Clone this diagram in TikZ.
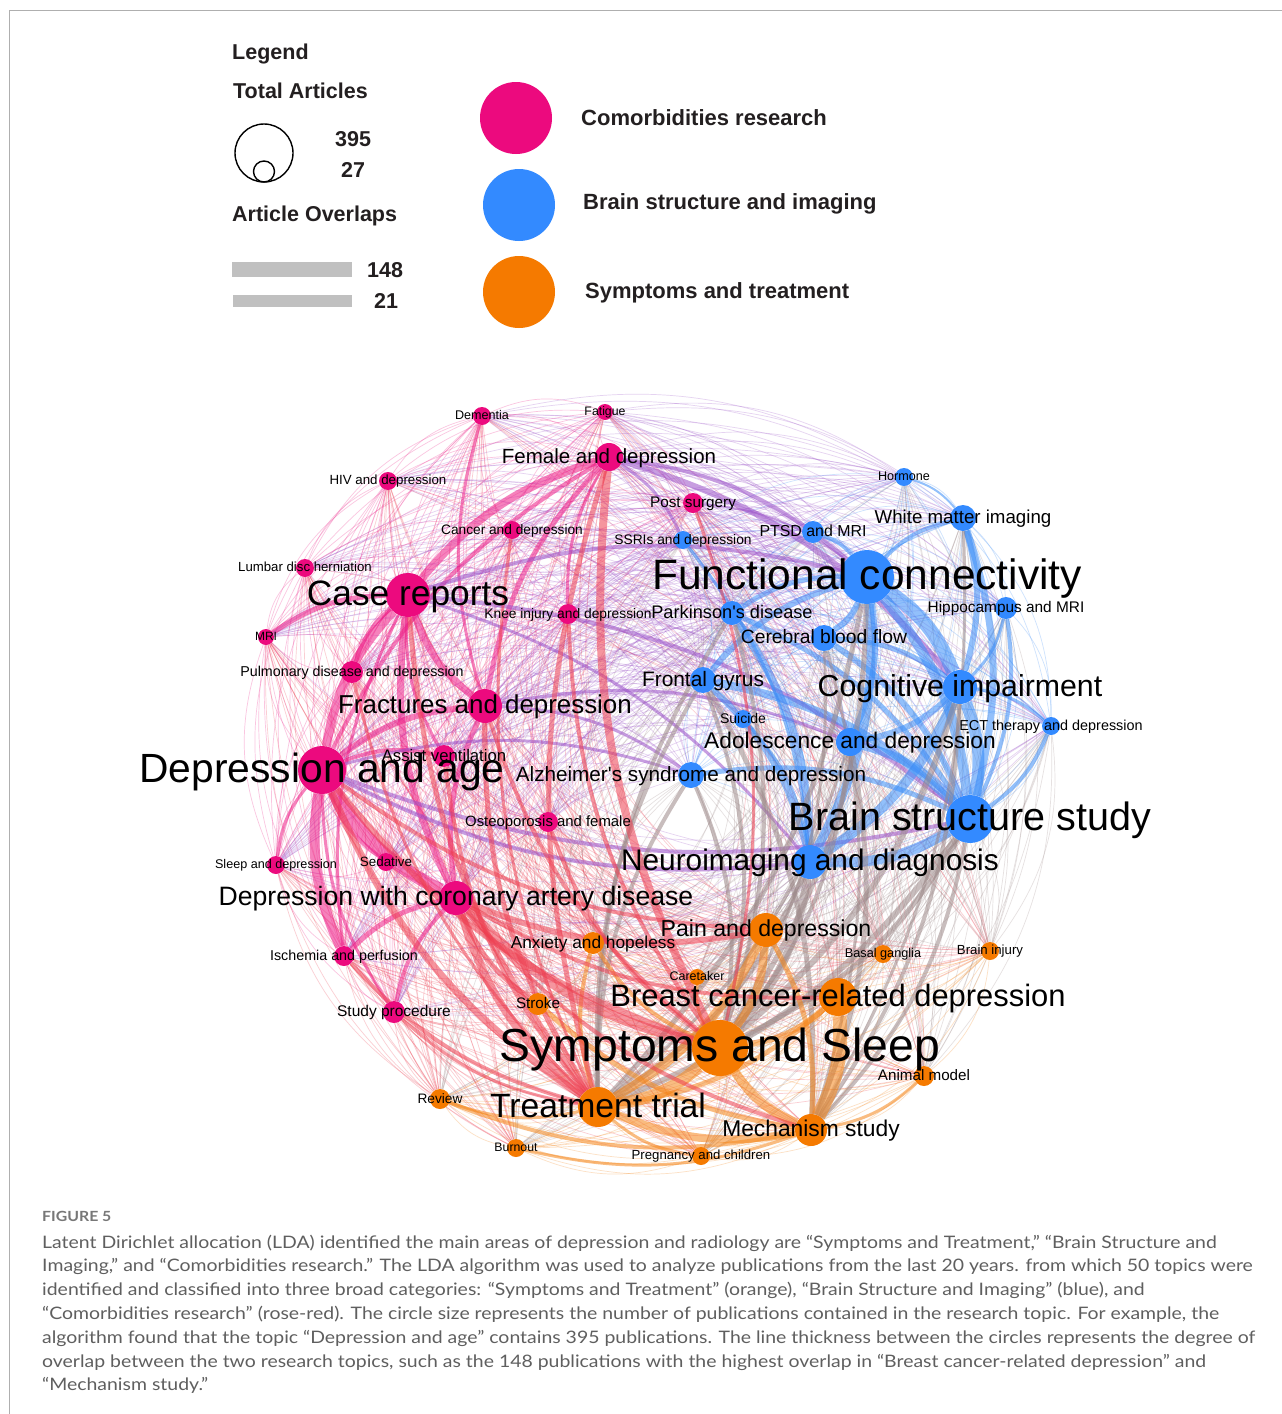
\documentclass[tikz,border=0pt]{standalone}
\usepackage{fontspec}
\setmainfont{Liberation Sans}
\newfontfamily\captionfont[FakeStretch=1.13]{Lato}

\pgfdeclarelayer{paper}
\pgfdeclarelayer{links}
\pgfdeclarelayer{labels}
\pgfsetlayers{paper,links,main,labels}

% topic colours
\definecolor{nodep}{HTML}{EC0A7E}
\definecolor{nodeb}{HTML}{338AFF}
\definecolor{nodeo}{HTML}{F57A00}
% link colours (mixture of the two end colours)
\definecolor{epp}{HTML}{EE1C86}
\definecolor{ebb}{HTML}{3A8DF8}
\definecolor{eoo}{HTML}{F5861A}
\definecolor{epb}{HTML}{9A50C8}
\colorlet{ebp}{epb}
\definecolor{epo}{HTML}{EE3E50}
\colorlet{eop}{epo}
\definecolor{ebo}{HTML}{9C8888}
\colorlet{eob}{ebo}
\definecolor{ink}{HTML}{231F20}
\definecolor{bargray}{HTML}{C0C0C0}
\definecolor{framegray}{HTML}{AFAFAF}
\definecolor{captiongray}{HTML}{5F5F5F}

% curved link between topics #1 and #2, bulging away from the network centre
% #3 line width, #4 opacity, #5 bend angle
\newcommand\topiclink[5]{%
  \pgfmathsetmacro\ax{\csname tx#1\endcsname/100}%
  \pgfmathsetmacro\ay{\csname ty#1\endcsname/100}%
  \pgfmathsetmacro\bx{\csname tx#2\endcsname/100}%
  \pgfmathsetmacro\by{\csname ty#2\endcsname/100}%
  \pgfmathsetmacro\bendang{((\by-\ay)*((\ax+\bx)/2-6.9)-(\bx-\ax)*((\ay+\by)/2-7.9))>0 ? #5 : -#5}%
  \edef\linkcolor{e\csname tc#1\endcsname\csname tc#2\endcsname}%
  \draw[line width=#3pt, draw=\linkcolor, draw opacity=#4] (n#1) to[bend left=\bendang] (n#2);%
}

\tikzset{
  topic/.style={circle, inner sep=0pt, draw=none},
  toplabel/.style={anchor=base, inner sep=0pt, text=black},
  legendhead/.style={anchor=base west, inner sep=0pt, text=ink, font=\bfseries\fontsize{21.5}{21.5}\selectfont},
  legendkey/.style={circle, inner sep=0pt, minimum size=72pt, draw=none},
  captionline/.style={anchor=base west, inner sep=0pt, text=captiongray, font=\captionfont\fontsize{17.2}{17.2}\selectfont},
}

\begin{document}
\begin{tikzpicture}[x=1pt,y=-1pt]
\useasboundingbox (0,0) rectangle (1282,1414);
\begin{pgfonlayer}{paper}
  \fill[white] (0,0) rectangle (1282,1414);
\end{pgfonlayer}
\draw[framegray, line width=1.5pt] (9.5,1414) -- (9.5,10.5) -- (1282,10.5);

% ---------------- legend ----------------
\node[legendhead] (lgtitle) at (232,59) {Legend};
\node[legendhead] (lgtotal) at (233,98) {Total Articles};
\node[circle, draw=black, line width=1.4pt, minimum size=58pt, inner sep=0pt] (lgbig) at (264,153) {};
\node[circle, draw=black, line width=1.4pt, minimum size=21pt, inner sep=0pt] (lgsmall) at (264,171.5) {};
\node[legendhead] (lg395) at (335,146) {395};
\node[legendhead] (lg27) at (341,177) {27};
\node[legendhead] (lgover) at (232,221) {Article Overlaps};
\fill[bargray] (232,262) rectangle (352,277);
\fill[bargray] (233,295) rectangle (352,307);
\node[legendhead] (lg148) at (367,277) {148};
\node[legendhead] (lg21) at (374,308) {21};

\node[legendkey, fill=nodep] (keyp) at (516,118) {};
\node[legendkey, fill=nodeb] (keyb) at (519,205) {};
\node[legendkey, fill=nodeo] (keyo) at (519,292) {};
\node[legendhead, font=\bfseries\fontsize{22}{22}\selectfont] (keyptext) at (581,125) {Comorbidities research};
\node[legendhead, font=\bfseries\fontsize{22}{22}\selectfont] (keybtext) at (583,209) {Brain structure and imaging};
\node[legendhead, font=\bfseries\fontsize{22}{22}\selectfont] (keyotext) at (585,298) {Symptoms and treatment};

% ---------------- topics ----------------
% index / x / y / radius / group / label size / label
\foreach \i/\x/\y/\r/\c/\s/\t in {
 1/482/416/9/p/12.6/Dementia,
 2/605/412/8/p/12.3/Fatigue,
 3/609/457/14/p/20.5/Female and depression,
 4/388/481/9/p/13.3/HIV and depression,
 5/693/503/10/p/15.3/Post surgery,
 6/512/530/9/p/13.7/Cancer and depression,
 7/305/568/9/p/13.2/Lumbar disc herniation,
 8/408/595/22/p/35.3/Case reports,
 9/568/614/10/p/13.8/Knee injury and depression,
 10/266/637/8/p/12.0/MRI,
 11/352/672/11/p/14.3/Pulmonary disease and depression,
 12/485/706/17/p/25.9/Fractures and depression,
 13/322/770/24/p/40.8/Depression and age,
 14/444/756/11/p/16.7/Assist ventilation,
 15/548/822/10/p/14.9/Osteoporosis and female,
 16/276/865/9/p/12.6/Sleep and depression,
 17/386/862/9/p/13.4/Sedative,
 18/456/898/17/p/26.6/Depression with coronary artery disease,
 19/344/956/10/p/14.3/Ischemia and perfusion,
 20/394/1012/11/p/15.5/Study procedure,
 21/904/477/9/b/12.6/Hormone,
 22/963/518/13/b/18.7/White matter imaging,
 23/813/532/11/b/15.9/PTSD and MRI,
 24/683/540/9/b/13.8/SSRIs and depression,
 25/867/577/27/b/42.5/Functional connectivity,
 26/1006/608/11/b/15.4/Hippocampus and MRI,
 27/732/613/12/b/18.2/Parkinson\textquotesingle s disease,
 28/824/638/13/b/19.3/Cerebral blood flow,
 29/703/680/13/b/20.9/Frontal gyrus,
 30/960/687/17/b/30.3/Cognitive impairment,
 31/1051/726/9/b/14.4/ECT therapy and depression,
 32/743/719/9/b/14.0/Suicide,
 33/850/742/14/b/22.7/Adolescence and depression,
 34/691/775/13/b/20.7/Alzheimer\textquotesingle s syndrome and depression,
 35/970/819/24/b/39.5/Brain structure study,
 36/810/862/17/b/29.8/Neuroimaging and diagnosis,
 37/766/930/17/o/23.1/Pain and depression,
 38/593/943/11/o/17.3/Anxiety and hopeless,
 39/883/954/9/o/12.7/Basal ganglia,
 40/990/951/9/o/13.2/Brain injury,
 41/697/977/8/o/12.5/Caretaker,
 42/838/997/19/o/30.9/Breast cancer-related depression,
 43/538/1004/11/o/15.2/Stroke,
 44/720/1048/28/o/46.3/Symptoms and Sleep,
 45/924/1076/10/o/15.2/Animal model,
 46/440/1099/10/o/13.7/Review,
 47/598/1107/20/o/33.7/Treatment trial,
 48/811/1130/16/o/22.8/Mechanism study,
 49/516/1148/9/o/12.3/Burnout,
 50/701/1156/9/o/13.2/Pregnancy and children%
}{
  \expandafter\xdef\csname tx\i\endcsname{\x}%
  \expandafter\xdef\csname ty\i\endcsname{\y}%
  \expandafter\xdef\csname tc\i\endcsname{\c}%
  \pgfmathsetmacro\dd{2*\r}%
  \node[topic, fill=node\c, minimum size=\dd pt] (n\i) at (\x,\y) {};
  \begin{pgfonlayer}{labels}
    \node[toplabel, font=\fontsize{\s}{\s}\selectfont] (l\i) at (\x,{\y+0.3*\s}) {\t};
  \end{pgfonlayer}
}

% ---------------- links ----------------
\begin{pgfonlayer}{links}
  % faint overlap links between every pair of topics
  \foreach \i in {1,...,49}{
    \pgfmathtruncatemacro\js{\i+1}
    \foreach \j in {\js,...,50}{
      \topiclink{\i}{\j}{0.7}{0.25}{22}
    }
  }
  % strong overlaps
  \foreach \a/\b/\w in {
    13/18/13, 13/19/10, 8/13/9, 3/8/8, 8/12/7, 8/18/7, 8/10/5, 12/13/6, 3/12/5,
    3/13/4, 12/18/5, 18/19/5, 18/20/4, 13/20/3, 1/12/3, 13/17/4, 13/16/3, 8/11/4,
    13/14/4, 8/14/3, 3/9/3, 8/19/3,
    3/30/6, 3/25/4, 8/25/4, 8/35/4, 13/35/4, 13/34/3, 12/33/3, 8/36/3, 13/36/4,
    5/25/2, 3/24/3, 12/34/3,
    25/30/14, 25/35/10, 25/36/9, 30/35/12, 30/36/10, 35/36/10, 33/35/8, 29/35/8,
    28/35/6, 22/35/7, 22/30/6, 27/36/8, 29/36/6, 34/35/5, 25/33/6, 25/29/6, 25/27/5,
    25/28/6, 30/33/6, 22/25/4, 26/35/4, 31/35/4, 30/31/3, 23/25/4, 28/30/5, 27/35/5,
    32/36/3, 24/36/3, 21/22/2, 26/30/3,
    36/44/8, 35/47/6, 30/44/6, 25/47/5, 29/48/5, 33/48/5, 30/48/4, 35/44/5, 25/44/5,
    36/47/5, 34/44/4, 27/47/4, 33/44/4, 28/48/3, 22/48/3, 35/48/4, 29/44/4,
    29/47/4, 34/47/4, 33/47/3, 27/44/4, 28/44/3,
    42/48/14, 44/47/12, 37/47/9, 37/44/8, 44/48/9, 47/48/8, 43/48/5, 42/44/6, 38/47/4,
    46/48/4, 48/49/3, 47/50/3, 42/47/5, 45/48/3, 37/48/5, 41/44/3, 38/44/4, 46/47/3,
    18/44/10, 3/44/8, 18/47/8, 13/47/7, 12/47/5, 8/47/5, 18/37/6, 13/44/6, 3/47/5,
    12/44/4, 15/44/4, 9/44/4, 6/47/3, 14/47/4, 19/47/4, 20/47/3, 11/47/3, 5/44/3,
    18/42/4, 13/37/4, 18/48/4, 18/43/5%
  }{
    \topiclink{\a}{\b}{\w}{0.55}{16}
  }
\end{pgfonlayer}

% ---------------- caption ----------------
\node[anchor=base west, inner sep=0pt, text=captiongray!85, font=\captionfont\bfseries\fontsize{14}{14}\selectfont] (figlabel) at (42,1221) {FIGURE 5};
\node[captionline] (cap1) at (42,1248) {Latent Dirichlet allocation (LDA) identified the main areas of depression and radiology are “Symptoms and Treatment,” “Brain Structure and};
\node[captionline] (cap2) at (42,1271.8) {Imaging,” and “Comorbidities research.” The LDA algorithm was used to analyze publications from the last 20 years. from which 50 topics were};
\node[captionline] (cap3) at (42,1295.6) {identified and classified into three broad categories: “Symptoms and Treatment” (orange), “Brain Structure and Imaging” (blue), and};
\node[captionline] (cap4) at (42,1319.4) {“Comorbidities research” (rose-red). The circle size represents the number of publications contained in the research topic. For example, the};
\node[captionline] (cap5) at (42,1343.2) {algorithm found that the topic “Depression and age” contains 395 publications. The line thickness between the circles represents the degree of};
\node[captionline] (cap6) at (42,1367) {overlap between the two research topics, such as the 148 publications with the highest overlap in “Breast cancer-related depression” and};
\node[captionline] (cap7) at (42,1390.8) {“Mechanism study.”};
\end{tikzpicture}
\end{document}
